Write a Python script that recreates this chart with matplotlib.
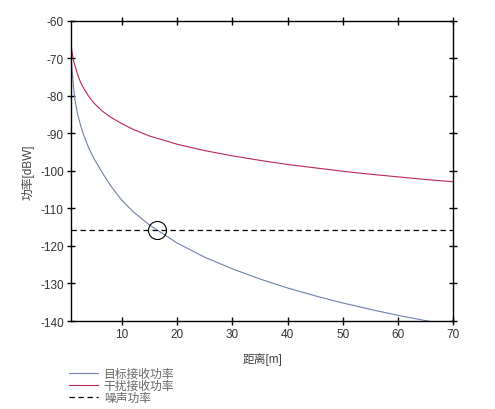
import matplotlib
matplotlib.use("Agg")
import matplotlib.pyplot as plt

plt.rcParams['font.family'] = ['Liberation Sans', 'Noto Sans CJK SC', 'DejaVu Sans']
plt.rcParams['axes.unicode_minus'] = False

# distance [m]
dist = [0.78, 1.0, 1.25, 1.5, 2.0, 2.5, 3.0, 4.0, 5.0, 6.5, 8.0, 10, 12, 15,
        20, 25, 30, 35, 40, 45, 50, 55, 60, 65, 70]
# target received power [dBW]
p_target = [-67.5, -73.0, -77.2, -80.8, -84.8, -87.6, -90.0, -93.8, -96.8,
            -100.5, -104.0, -107.8, -110.8, -114.4, -119.2, -123.0, -126.1,
            -128.8, -131.2, -133.3, -135.2, -136.9, -138.5, -139.9, -141.2]
# interference received power [dBW]
p_interf = [-66.2, -68.3, -70.4, -71.8, -74.3, -76.2, -77.7, -80.1, -82.0,
            -84.1, -85.7, -87.4, -88.9, -90.7, -92.9, -94.6, -96.0, -97.2,
            -98.3, -99.2, -100.1, -100.9, -101.6, -102.3, -102.9]
noise_dbw = -115.7
cross_x = 16.3

labels = ['目标接收功率', '干扰接收功率', '噪声功率']
xticks = [10, 20, 30, 40, 50, 60, 70]
yticks = [-140, -130, -120, -110, -100, -90, -80, -70, -60]

fig = plt.figure(figsize=(4.95, 4.10), dpi=100)
ax = fig.add_axes([0.143, 0.2146, 0.773, 0.7324])

l1, = ax.plot(dist, p_target, color='#6e80ad', lw=0.8)
l2, = ax.plot(dist, p_interf, color='#b8294f', lw=0.8)
l3 = ax.axhline(noise_dbw, color='black', lw=0.9, dashes=(4.3, 2.9))
ax.plot([cross_x], [noise_dbw], 'o', ms=13, mfc='none', mec='black', mew=0.8)

ax.set_xlim(0.78, 70)
ax.set_ylim(-140, -60)
ax.set_xticks(xticks)
ax.set_yticks(yticks)

for s in ax.spines.values():
    s.set_linewidth(1.0)
ax.tick_params(direction='inout', length=6, width=1.0, top=True, right=True,
               labelsize=8.5, labelcolor='#333333', pad=2)

ax.set_xlabel('距离[m]', fontsize=8.5, color='#444444', labelpad=9)
ax.set_ylabel('功率[dBW]', fontsize=8.5, color='#444444', labelpad=4)

# legend below the axes, no frame
leg = fig.legend([l1, l2, l3], labels, loc='upper left',
                 bbox_to_anchor=(0.139, 0.1), frameon=False, fontsize=8.5,
                 handlelength=2.5, handletextpad=0.45, labelspacing=0.0,
                 borderaxespad=0, borderpad=0)
for t in leg.get_texts():
    t.set_color('#666666')

fig.savefig('out.png', dpi=100)
